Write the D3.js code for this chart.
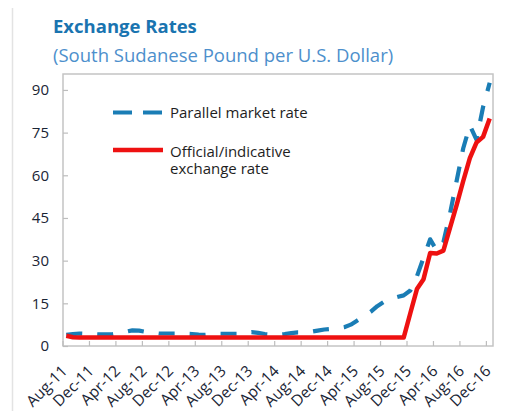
<!DOCTYPE html>
<html>
<head>
<meta charset="utf-8">
<script src="https://cdn.jsdelivr.net/npm/d3@7"></script>
<style>
  html, body { margin: 0; padding: 0; background: #fff; }
  svg { display: block; font-family: "Open Sans", "Noto Sans", sans-serif; }
</style>
</head>
<body>
<svg id="chart" width="505" height="411"></svg>
<script>
// ---------- data ----------
const months = [
  "Aug-11","Sep-11","Oct-11","Nov-11","Dec-11","Jan-12","Feb-12","Mar-12","Apr-12","May-12","Jun-12","Jul-12",
  "Aug-12","Sep-12","Oct-12","Nov-12","Dec-12","Jan-13","Feb-13","Mar-13","Apr-13","May-13","Jun-13","Jul-13",
  "Aug-13","Sep-13","Oct-13","Nov-13","Dec-13","Jan-14","Feb-14","Mar-14","Apr-14","May-14","Jun-14","Jul-14",
  "Aug-14","Sep-14","Oct-14","Nov-14","Dec-14","Jan-15","Feb-15","Mar-15","Apr-15","May-15","Jun-15","Jul-15",
  "Aug-15","Sep-15","Oct-15","Nov-15","Dec-15","Jan-16","Feb-16","Mar-16","Apr-16","May-16","Jun-16","Jul-16",
  "Aug-16","Sep-16","Oct-16","Nov-16","Dec-16"
];
const parallelRate = [
  3.9, 4.2, 4.4, 4.3,
  4.2, 4.1, 4.1, 4.2,
  4.6, 5.0, 5.5, 5.4,
  5.0, 4.7, 4.4, 4.4,
  4.4, 4.4, 4.3, 4.2,
  4.0, 3.9, 4.1, 4.3,
  4.3, 4.3, 4.3, 4.6,
  4.9, 4.6, 4.2, 4.0,
  4.0, 4.2, 4.5, 4.8,
  4.8, 5.0, 5.4, 5.8,
  6.0, 6.2, 6.6, 7.5,
  9.0, 10.5, 12.0, 14.0,
  15.5, 16.5, 17.2, 17.8,
  19.5, 24.5, 31.0, 37.5,
  33.5, 36.5, 46.5, 58.0,
  69.5, 77.5, 72.5, 84.0,
  92.5
];
const officialRate = [
  3.6, 3.1, 2.95, 2.95,
  2.95, 2.95, 2.95, 2.95,
  2.95, 2.95, 2.95, 2.95,
  2.95, 2.95, 2.95, 2.95,
  2.95, 2.95, 2.95, 2.95,
  2.95, 2.95, 2.95, 2.95,
  2.95, 2.95, 2.95, 2.95,
  2.95, 2.95, 2.95, 2.95,
  2.95, 2.95, 2.95, 2.95,
  2.95, 2.95, 2.95, 2.95,
  2.95, 2.95, 2.95, 2.95,
  2.95, 2.95, 2.95, 2.95,
  2.95, 2.95, 2.95, 2.95,
  11.5, 20.0, 23.5, 32.7,
  32.5, 33.5, 41.5, 49.5,
  58.0, 66.0, 71.5, 73.5,
  80.0
];
const xTickLabels = ["Aug-11","Dec-11","Apr-12","Aug-12","Dec-12","Apr-13","Aug-13","Dec-13","Apr-14",
                     "Aug-14","Dec-14","Apr-15","Aug-15","Dec-15","Apr-16","Aug-16","Dec-16"];
const yTicks = [0, 15, 30, 45, 60, 75, 90];
const yMax = 95.6;
const titleText = "Exchange Rates";
const subtitleText = "(South Sudanese Pound per U.S. Dollar)";
const legendParallel = "Parallel market rate";
const legendOfficial = ["Official/indicative", "exchange rate"];

// ---------- layout ----------
const svg = d3.select("#chart");
const plot = { left: 63, right: 493, top: 74, bottom: 346 };
const blue = "#1a7db5", red = "#ee1111";

const x = d3.scaleBand().domain(months).range([plot.left, plot.right]).padding(0);
const cx = m => x(m) + x.bandwidth() / 2;
const y = d3.scaleLinear().domain([0, yMax]).range([plot.bottom, plot.top]);

// faint outer frame line on the left
svg.append("line").attr("x1", 12.5).attr("x2", 12.5).attr("y1", 8).attr("y2", 411)
  .attr("stroke", "#e3e3e3").attr("stroke-width", 1.5);

// titles
svg.append("text").attr("x", 53).attr("y", 33).text(titleText)
  .attr("font-size", 18.5).attr("font-weight", 700).attr("fill", "#1a74b0");
svg.append("text").attr("x", 53).attr("y", 62).text(subtitleText)
  .attr("font-size", 18.5).attr("fill", "#4d8fcc");

// plot frame
svg.append("rect").attr("x", plot.left).attr("y", plot.top)
  .attr("width", plot.right - plot.left).attr("height", plot.bottom - plot.top)
  .attr("fill", "none").attr("stroke", "#c4c4c4").attr("stroke-width", 1.5);

// y axis (inward ticks)
const yAxis = d3.axisRight(y).tickValues(yTicks).tickSize(5).tickFormat("");
const gy = svg.append("g").attr("transform", `translate(${plot.left},0)`).call(yAxis);
gy.select(".domain").remove();
gy.selectAll(".tick line").attr("stroke", "#bdbdbd").attr("stroke-width", 1.2);
svg.append("g").selectAll("text").data(yTicks).join("text")
  .attr("x", 49).attr("y", d => y(d)).attr("dy", "0.36em")
  .attr("text-anchor", "end").attr("font-size", 15).attr("fill", "#1a2535")
  .text(d => d);

// x axis: ticks at category boundaries, every 4 months
const tickMonths = months.filter((m, i) => i % 4 === 0);
const xAxis = d3.axisTop(x).tickValues(tickMonths).tickSize(5).tickFormat("");
const gx = svg.append("g").attr("transform", `translate(0,${plot.bottom})`).call(xAxis);
gx.select(".domain").remove();
gx.selectAll(".tick").attr("transform", d => `translate(${x(d)},0)`);
gx.selectAll(".tick line").attr("stroke", "#bdbdbd").attr("stroke-width", 1.2);

svg.append("g").selectAll("text").data(tickMonths).join("text")
  .attr("transform", (d) => `translate(${cx(d) + 2},372) rotate(-45)`)
  .attr("text-anchor", "end").attr("font-size", 15.5).attr("fill", "#1a2535")
  .text((d, i) => xTickLabels[i]);

// lines
const lineGen = d3.line().x((d, i) => cx(months[i])).y(d => y(d)).curve(d3.curveLinear);

svg.append("path").datum(parallelRate).attr("d", lineGen)
  .attr("fill", "none").attr("stroke", blue).attr("stroke-width", 4.2)
  .attr("stroke-dasharray", "16,15").attr("stroke-linejoin", "round");

svg.append("path").datum(officialRate).attr("d", lineGen)
  .attr("fill", "none").attr("stroke", red).attr("stroke-width", 4.5)
  .attr("stroke-linejoin", "round");

// legend
svg.append("line").attr("x1", 113).attr("x2", 162).attr("y1", 112.5).attr("y2", 112.5)
  .attr("stroke", blue).attr("stroke-width", 4.2).attr("stroke-dasharray", "19,11");
svg.append("text").attr("x", 170).attr("y", 117.5).text(legendParallel)
  .attr("font-size", 15).attr("fill", "#1e1e1e");
svg.append("line").attr("x1", 113).attr("x2", 163).attr("y1", 150).attr("y2", 150)
  .attr("stroke", red).attr("stroke-width", 4.5);
svg.append("text").attr("x", 170).attr("y", 156.5).attr("font-size", 15).attr("fill", "#1e1e1e")
  .selectAll("tspan").data(legendOfficial).join("tspan")
  .attr("x", 170).attr("dy", (d, i) => i === 0 ? 0 : 17).text(d => d);
</script>
</body>
</html>
